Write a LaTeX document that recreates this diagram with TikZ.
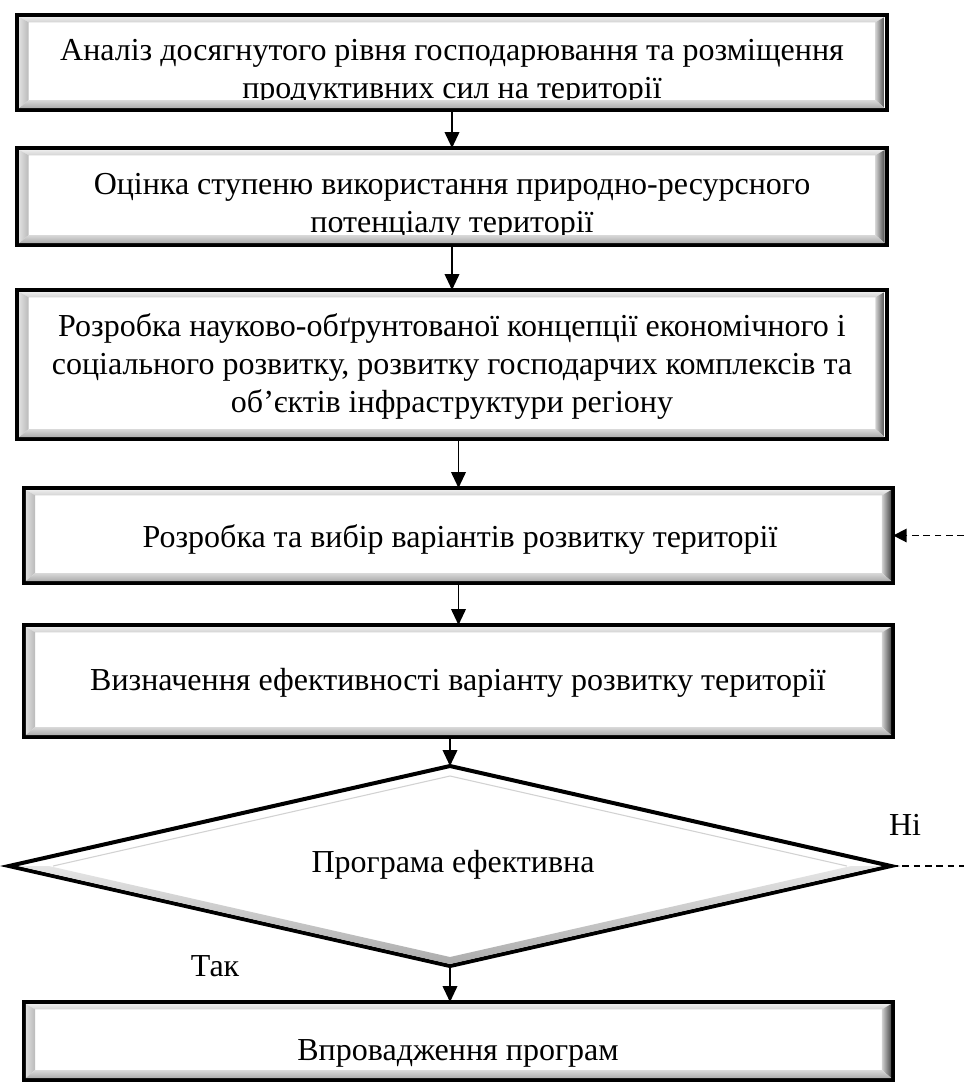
\documentclass[tikz,border=0pt]{standalone}
\usepackage{fontspec}
\setmainfont{Liberation Serif}
\usetikzlibrary{shapes.geometric,arrows.meta,calc}

\tikzset{
  blok/.style={draw, line width=3pt, fill=white, inner sep=0pt, outer sep=0pt, minimum width=652pt},
  rozv/.style={draw, diamond, line width=3pt, fill=white, inner sep=0pt, outer sep=0pt},
  txt/.style={align=center, inner sep=0pt, font=\fontsize{24}{28.5}\selectfont},
  flow/.style={line width=1.3pt, -{Triangle[length=12pt,width=11pt]}},
  back/.style={line width=1.3pt, dash pattern=on 5pt off 3.5pt},
}

% grey bevel inside the black border of a box
\newcommand\bevel[1]{
  \coordinate (A) at ($(#1.south west)+(1.5pt,1.5pt)$);
  \coordinate (B) at ($(#1.south east)+(-1.5pt,1.5pt)$);
  \coordinate (C) at ($(#1.north east)+(-1.5pt,-1.5pt)$);
  \coordinate (D) at ($(#1.north west)+(1.5pt,-1.5pt)$);
  \coordinate (a) at ($(A)+(7pt,6pt)$);
  \coordinate (b) at ($(B)+(-7pt,6pt)$);
  \coordinate (c) at ($(C)+(-7pt,-4pt)$);
  \coordinate (d) at ($(D)+(7pt,-4pt)$);
  \shade[top color=gray!15, bottom color=gray!35] (D) -- (C) -- (c) -- (d) -- cycle;
  \shade[left color=gray!25, right color=gray!55] (A) -- (D) -- (d) -- (a) -- cycle;
  \shade[left color=gray!35, right color=black!70] (B) -- (C) -- (c) -- (b) -- cycle;
  \shade[top color=gray!30, bottom color=gray!65] (A) -- (B) -- (b) -- (a) -- cycle;
}

\begin{document}
\begin{tikzpicture}[x=0.75pt,y=-0.75pt]
  \useasboundingbox (0,0) rectangle (964,1082);

  % frames
  \node[blok, minimum height=71.25pt] (b1) at (452,62.5) {};
  \node[blok, minimum height=72.75pt] (b2) at (452,196.5) {};
  \node[blok, minimum height=111.75pt] (b3) at (452,364.5) {};
  \node[blok, minimum height=71.25pt] (b4) at (458.5,535.5) {};
  \node[blok, minimum height=84pt] (b5) at (458.5,681) {};
  \node[rozv, minimum width=661.5pt, minimum height=150pt] (dec) at (450,866) {};
  \node[blok, minimum height=58.5pt] (b6) at (458.5,1041) {};

  % texts (base = last line)
  \node[txt, anchor=base] (t1) at (452,98) {Аналіз досягнутого рівня господарювання та розміщення\\ продуктивних сил на території};
  \node[txt, anchor=base] (t2) at (452,232) {Оцінка ступеню використання природно-ресурсного\\ потенціалу території};
  \node[txt, anchor=base] (t3) at (452,412) {Розробка науково-обґрунтованої концепції економічного і\\ соціального розвитку, розвитку господарчих комплексів та\\ об’єктів інфраструктури регіону};
  \node[txt, anchor=base] (t4) at (460,547) {Розробка та вибір варіантів розвитку території};
  \node[txt, anchor=base] (t5) at (458,690) {Визначення ефективності варіанту розвитку території};
  \node[txt, anchor=base] (t6) at (453,872) {Програма ефективна};
  \node[txt, anchor=base] (t7) at (458,1060) {Впровадження програм};
  \node[txt, anchor=base] (tak) at (215,976) {Так};
  \node[txt, anchor=base] (ni) at (905,835) {Ні};

  % bevels
  \foreach \n in {b1,b2,b3,b4,b5,b6}
    \bevel{\n};
  \shade[top color=gray!20, bottom color=gray!65]
    ($(dec.center)!.98!(dec.west)$) -- ($(dec.center)!.98!(dec.south)$)
    -- ($(dec.center)!.91!(dec.south)$) -- ($(dec.center)!.91!(dec.west)$) -- cycle;
  \shade[top color=gray!20, bottom color=gray!65]
    ($(dec.center)!.98!(dec.east)$) -- ($(dec.center)!.98!(dec.south)$)
    -- ($(dec.center)!.91!(dec.south)$) -- ($(dec.center)!.91!(dec.east)$) -- cycle;
  \draw[gray!35, line width=0.8pt] ($(dec.center)!.9!(dec.west)$)
    -- ($(dec.center)!.9!(dec.north)$) -- ($(dec.center)!.9!(dec.east)$);

  % arrows
  \draw[flow] (b1.south) -- (b2.north);
  \draw[flow] (b2.south) -- (b3.north);
  \draw[flow] (b4.north |- b3.south) -- (b4.north);
  \draw[flow] (b4.south) -- (b5.north);
  \draw[flow] (dec.north |- b5.south) -- (dec.north);
  \draw[flow] (dec.south) -- (dec.south |- b6.north);

  % way back
  \coordinate (rtop) at (964,535.5);
  \coordinate (rbot) at (964,866);
  \draw[back, -{Triangle[length=10pt,width=10pt]}] (rtop) -- (b4.east);
  \draw[back] (dec.east) -- (rbot);
\end{tikzpicture}
\end{document}
